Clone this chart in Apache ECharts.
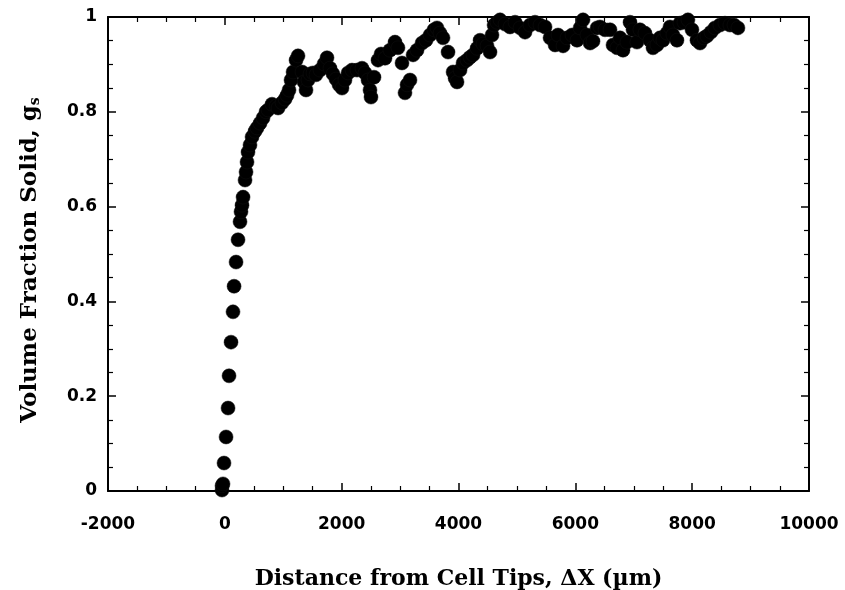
<!DOCTYPE html>
<html>
<head>
<meta charset="utf-8">
<script src="https://cdn.jsdelivr.net/npm/echarts@6/dist/echarts.min.js"></script>
<style>
html,body{margin:0;padding:0;background:#fff;}
#chart{width:845px;height:590px;}
</style>
</head>
<body>
<div id="chart"></div>
<script>
// Distance from cell tips (µm)
var distance = [
  -48, -48, -31, -14, 21, 55, 72, 106, 140, 158, 192, 226, 260, 277, 294, 312, 346, 363, 380, 397,
  431, 466, 517, 551, 603, 654, 705, 740, 808, 877, 911, 979, 1031, 1065, 1099, 1133, 1168, 1219, 1253,
  1322, 1356, 1390, 1424, 1459, 1510, 1561, 1630, 1698, 1749, 1801, 1852, 1903, 1955, 2006, 2057, 2109,
  2177, 2263, 2348, 2400, 2451, 2485, 2502, 2554, 2622, 2674, 2742, 2827, 2913, 2964,
  3033, 3084, 3119, 3170, 3222, 3290, 3376, 3444, 3513, 3581, 3632, 3684, 3735, 3821, 3907, 3941, 3975,
  4027, 4078, 4146, 4198, 4249, 4318, 4369, 4420, 4489, 4540, 4574, 4609, 4660, 4711, 4797, 4882, 4968,
  5054, 5139, 5225, 5310, 5396, 5482, 5567, 5653, 5704, 5790, 5858, 5944, 6029, 6081, 6132, 6200, 6252,
  6303, 6372, 6423, 6508, 6594, 6645, 6714, 6765, 6816, 6884, 6936, 6987, 7055, 7106, 7192, 7277, 7329,
  7397, 7449, 7500, 7569, 7620, 7671, 7740, 7791, 7860, 7928, 7997, 8082, 8134, 8202, 8253, 8322, 8390,
  8476, 8562, 8647, 8716, 8784
];
// Volume fraction solid g_s
var fractionSolid = [
  0.002, 0.011, 0.015, 0.059, 0.114, 0.175, 0.243, 0.314, 0.378, 0.432, 0.483, 0.530, 0.568, 0.589, 0.603, 0.620, 0.656, 0.673, 0.694, 0.715,
  0.730, 0.747, 0.759, 0.766, 0.776, 0.787, 0.800, 0.804, 0.816, 0.812, 0.808, 0.819, 0.827, 0.835, 0.846, 0.867, 0.884, 0.909, 0.918,
  0.884, 0.863, 0.846, 0.867, 0.880, 0.882, 0.878, 0.888, 0.901, 0.914, 0.892, 0.880, 0.869, 0.857, 0.850, 0.867, 0.882,
  0.888, 0.888, 0.892, 0.882, 0.867, 0.846, 0.831, 0.873, 0.909, 0.922, 0.913, 0.930, 0.947, 0.935,
  0.903, 0.840, 0.857, 0.867, 0.920, 0.930, 0.945, 0.951, 0.962, 0.973, 0.977, 0.966, 0.956, 0.926, 0.884, 0.871, 0.863,
  0.888, 0.903, 0.909, 0.915, 0.920, 0.934, 0.951, 0.943, 0.939, 0.926, 0.962, 0.983, 0.989, 0.994, 0.985, 0.979, 0.989,
  0.977, 0.968, 0.983, 0.989, 0.983, 0.979, 0.956, 0.941, 0.962, 0.939, 0.956, 0.962, 0.951, 0.977, 0.994, 0.962, 0.945,
  0.949, 0.977, 0.979, 0.973, 0.973, 0.941, 0.935, 0.956, 0.930, 0.947, 0.989, 0.973, 0.947, 0.973, 0.966, 0.951, 0.935,
  0.941, 0.956, 0.951, 0.966, 0.979, 0.962, 0.951, 0.987, 0.989, 0.994, 0.973, 0.951, 0.945, 0.956, 0.960, 0.968, 0.977,
  0.983, 0.987, 0.983, 0.983, 0.977
];
var xTicks = [-2000, 0, 2000, 4000, 6000, 8000, 10000];
var yTicks = [0, 0.2, 0.4, 0.6, 0.8, 1];

var points = distance.map(function (d, i) { return [d, fractionSolid[i]]; });

var chart = echarts.init(document.getElementById('chart'), null, {renderer: 'canvas'});
var lineStyle = {color: '#000', width: 2};
var labelFont = {color: '#000', fontFamily: 'DejaVu Sans', fontWeight: 'bold', fontSize: 17};
var titleFont = 'DejaVu Serif';
var xBase = {
  type: 'value', min: xTicks[0], max: xTicks[xTicks.length - 1], interval: 2000,
  axisLine: {show: true, onZero: false, lineStyle: lineStyle},
  axisTick: {show: true, inside: true, length: 8, lineStyle: {color: '#000', width: 1.5}},
  minorTick: {show: true, splitNumber: 4, length: 5, lineStyle: {color: '#000', width: 1.2}},
  splitLine: {show: false}
};
var yBase = {
  type: 'value', min: yTicks[0], max: yTicks[yTicks.length - 1], interval: 0.2,
  axisLine: {show: true, onZero: false, lineStyle: lineStyle},
  axisTick: {show: true, inside: true, length: 8, lineStyle: {color: '#000', width: 1.5}},
  minorTick: {show: true, splitNumber: 4, length: 5, lineStyle: {color: '#000', width: 1.2}},
  splitLine: {show: false}
};
function merge(a, b) { var o = {}; for (var k in a) o[k] = a[k]; for (var k2 in b) o[k2] = b[k2]; return o; }

chart.setOption({
  animation: false,
  backgroundColor: '#fff',
  grid: {left: 108, right: 36, top: 17, bottom: 99, containLabel: false, outerBoundsMode: 'none'},
  xAxis: [
    merge(xBase, {
      position: 'bottom',
      name: 'Distance from Cell Tips, \u0394X (\u00b5m)',
      nameLocation: 'middle', nameGap: 77,
      nameTextStyle: {color: '#000', fontFamily: titleFont, fontWeight: 'bold', fontSize: 22},
      axisLabel: merge(labelFont, {margin: 25, formatter: function (v) { return String(v); }})
    }),
    merge(xBase, {position: 'top', axisLabel: {show: false}})
  ],
  yAxis: [
    merge(yBase, {
      position: 'left',
      name: '{t|Volume Fraction Solid, g}{s|s}',
      nameLocation: 'middle', nameGap: 66,
      nameTextStyle: {
        color: '#000', fontFamily: titleFont, fontWeight: 'bold', fontSize: 22,
        padding: [0, 12, 0, 0],
        rich: {
          t: {color: '#000', fontFamily: titleFont, fontWeight: 'bold', fontSize: 23},
          s: {color: '#000', fontFamily: titleFont, fontWeight: 'bold', fontSize: 14, verticalAlign: 'bottom', padding: [8, 0, 0, 0]}
        }
      },
      axisLabel: merge(labelFont, {margin: 11, formatter: function (v) { return String(Math.round(v * 10) / 10); }})
    }),
    merge(yBase, {position: 'right', axisLabel: {show: false}})
  ],
  series: [{
    type: 'scatter',
    xAxisIndex: 0, yAxisIndex: 0,
    data: points,
    symbol: 'circle',
    symbolSize: 14,
    itemStyle: {color: '#000', borderColor: '#111', borderWidth: 0.5, opacity: 1},
    clip: false
  }]
});
</script>
</body>
</html>
